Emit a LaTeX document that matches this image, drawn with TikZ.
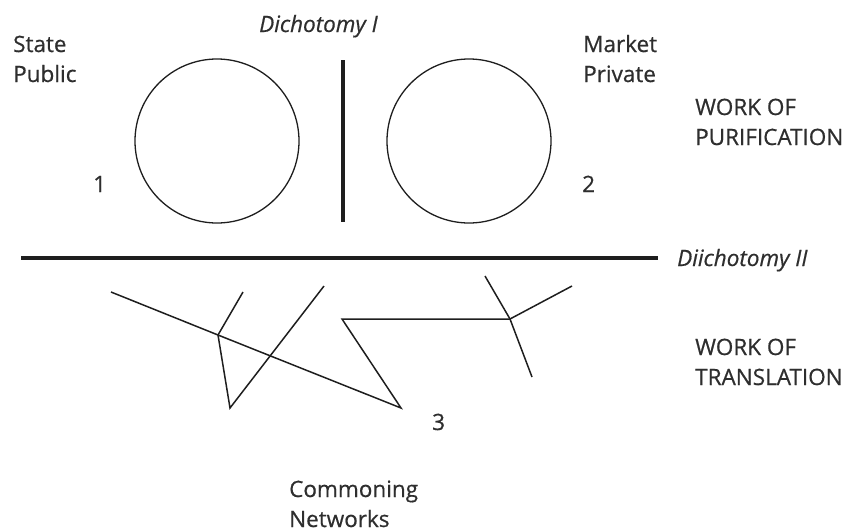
\documentclass[tikz,border=0pt]{standalone}
\usepackage{fontspec}
\setmainfont{Open Sans}[FakeBold=0.6]
\definecolor{txt}{HTML}{2E2E2E}
\definecolor{ink}{HTML}{1E1E1E}
\begin{document}
\begin{tikzpicture}[x=1pt,y=-1pt,
  lbl/.style={anchor=base west,inner sep=0pt,text=txt,font=\fontsize{22.5}{30}\selectfont,align=left},
  ital/.style={anchor=base west,inner sep=0pt,text=txt,font=\fontsize{22.5}{24}\selectfont\itshape},
  ring/.style={draw=ink,line width=1.3pt,circle,minimum size=164pt,inner sep=0pt},
  thin/.style={draw=ink,line width=1.5pt},
  thick/.style={draw=ink,line width=3.5pt}]
\useasboundingbox (0,0) rectangle (857,531);
% top
\node[ring] (c1) at (217,141) {};
\node[ring] (c2) at (469,141) {};
\coordinate (d1t) at (343,60);
\coordinate (d1b) at (343,222);
\draw[thick] (d1t) -- (d1b);
\node[ital] (dI) at (259,32) {Dichotomy I};
\node[lbl] (sp) at (13,82) {State\\Public};
\node[lbl] (mp) at (583,82) {Market\\Private};
\node[lbl] (n1) at (93,192) {1};
\node[lbl] (n2) at (582,192) {2};
\node[lbl] (wp) at (695,145) {WORK OF\\PURIFICATION};
% dichotomy II
\coordinate (h1) at (21,258);
\coordinate (h2) at (658,258);
\draw[thick] (h1) -- (h2);
\node[ital] (dII) at (677,266) {Diichotomy II};
% network
\coordinate (a) at (111,292);
\coordinate (j) at (218,335);
\coordinate (p) at (401,408);
\coordinate (b) at (243,292);
\coordinate (q) at (230,408);
\coordinate (r) at (324,286);
\coordinate (s) at (342,319);
\coordinate (k) at (510,319);
\coordinate (t) at (572,286);
\coordinate (u) at (485,276);
\coordinate (v) at (532,377);
\draw[thin] (a) -- (j) -- (p) -- (s) -- (k) -- (t);
\draw[thin] (j) -- (b);
\draw[thin] (j) -- (q) -- (r);
\draw[thin] (u) -- (k) -- (v);
\node[lbl] (n3) at (432,430) {3};
\node[lbl] (wt) at (695,385) {WORK OF\\TRANSLATION};
\node[lbl] (cn) at (289,527) {Commoning\\Networks};
\end{tikzpicture}
\end{document}
